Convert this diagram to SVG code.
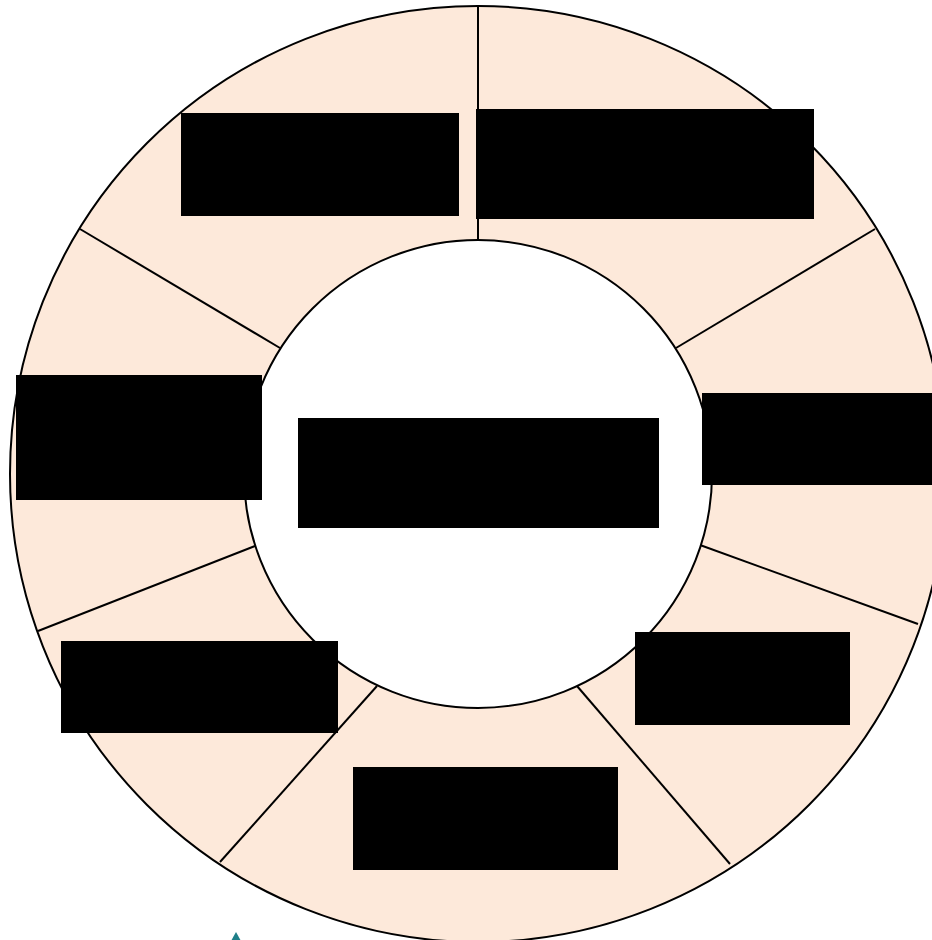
<svg xmlns="http://www.w3.org/2000/svg" width="932" height="940" viewBox="0 0 932 940">
<style>
.ring{fill:#fde9da;stroke:#000;stroke-width:2}
.hole{fill:#fff;stroke:#000;stroke-width:2}
.spoke{stroke:#000;stroke-width:2;fill:none}
.box{fill:#000}
</style>
<rect width="932" height="940" fill="#fff"/>
<g id="ring">
<circle class="ring" cx="478" cy="474" r="468"/>
</g>
<g id="connectors">
<line class="spoke" x1="478" y1="6" x2="478" y2="240"/>
<line class="spoke" x1="80" y1="229" x2="280" y2="348"/>
<line class="spoke" x1="875" y1="229" x2="676" y2="348"/>
<line class="spoke" x1="38" y1="631" x2="255" y2="546"/>
<line class="spoke" x1="918" y1="624" x2="700" y2="545"/>
<line class="spoke" x1="220" y1="862" x2="377" y2="686"/>
<line class="spoke" x1="730" y1="864" x2="577" y2="686"/>
</g>
<g id="center">
<circle class="hole" cx="478" cy="474" r="234"/>
<rect class="box" x="298" y="418" width="361" height="110"/>
</g>
<g id="node-top-left"><rect class="box" x="181" y="113" width="278" height="103"/></g>
<g id="node-top-right"><rect class="box" x="476" y="109" width="338" height="110"/></g>
<g id="node-left"><rect class="box" x="16" y="375" width="246" height="125"/></g>
<g id="node-right"><rect class="box" x="702" y="393" width="232" height="92"/></g>
<g id="node-bottom-left"><rect class="box" x="61" y="641" width="277" height="92"/></g>
<g id="node-bottom-right"><rect class="box" x="635" y="632" width="215" height="93"/></g>
<g id="node-bottom"><rect class="box" x="353" y="767" width="265" height="103"/></g>
<g id="mark"><polygon points="236,932 231,941 241,941" fill="#1f7f89"/></g>
</svg>
